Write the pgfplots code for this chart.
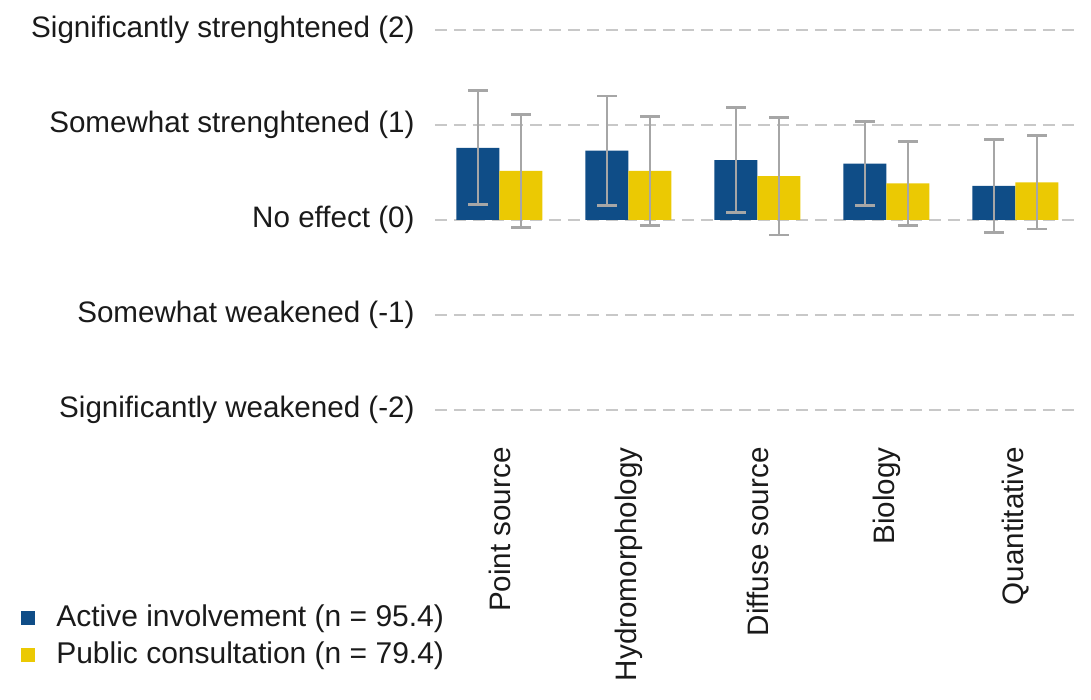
\documentclass[border=0pt]{standalone}
\usepackage{pgfplots}
\pgfplotsset{compat=1.18}
\usepackage{fontspec}
\setmainfont{Liberation Sans}
\definecolor{cblue}{HTML}{0F4D87}
\definecolor{cyellow}{HTML}{EBC903}
\definecolor{cerr}{HTML}{A6A6A6}
\definecolor{cgrid}{HTML}{C8C8C8}
\definecolor{ctext}{HTML}{1A1A1A}
\begin{document}
\fontsize{14.8}{17}\selectfont
\begin{tikzpicture}
\begin{axis}[
  scale only axis,
  width=322.5pt, height=209pt,
  xmin=-0.5, xmax=4.5,
  ymin=-2.2, ymax=2.2,
  axis line style={draw=none},
  major tick length=0pt,
  ybar=0pt, bar width=21.5pt,
  xtick={0,1,2,3,4},
  xticklabels={Point source,Hydromorphology,Diffuse source,Biology,Quantitative},
  xticklabel style={rotate=90, anchor=east, inner xsep=9pt, inner ysep=0pt, text=ctext, font=\fontsize{14.8}{17}\selectfont},
  ytick={-2,-1,0,1,2},
  yticklabels={Significantly weakened (-2),Somewhat weakened (-1),No effect (0),Somewhat strenghtened (1),Significantly strenghtened (2)},
  yticklabel style={anchor=east, inner xsep=10pt, text=ctext, font=\fontsize{14.8}{17}\selectfont},
  ymajorgrids,
  major grid style={cgrid, line width=1.1pt, dash pattern=on 6pt off 3.5pt},
  clip=false,
  legend cell align=left,
  legend style={at={(rel axis cs:-0.642,-0.413)}, anchor=north west, draw=none, fill=none, inner sep=0pt, row sep=2.5pt, column sep=9pt, font=\fontsize{15}{17}\selectfont, text=ctext, nodes={inner sep=1.5pt}},
  legend image code/.code={\fill[#1,draw=none] (0pt,-3.5pt) rectangle (7pt,3.5pt);},
  legend entries={Active involvement (n = 95.4),Public consultation (n = 79.4)},
  error bars/error bar style={cerr, line width=1.4pt},
  error bars/error mark options={rotate=90, mark size=4.9pt, line width=1.4pt, cerr},
]
\addplot[fill=cblue, draw=none, error bars/.cd, y dir=both, y explicit]
  coordinates {
  (0,0.76) +- (0,0.60)
  (1,0.73) +- (0,0.575)
  (2,0.63) +- (0,0.555)
  (3,0.593) +- (0,0.44)
  (4,0.358) +- (0,0.49)
  };
\addplot[fill=cyellow, draw=none, error bars/.cd, y dir=both, y explicit]
  coordinates {
  (0,0.516) +- (0,0.595)
  (1,0.516) +- (0,0.572)
  (2,0.463) +- (0,0.62)
  (3,0.386) +- (0,0.44)
  (4,0.396) +- (0,0.49)
  };
\path (rel axis cs:-0.6744,-0.622) rectangle (rel axis cs:1.0171,1.0263);
\end{axis}
\end{tikzpicture}
\end{document}
